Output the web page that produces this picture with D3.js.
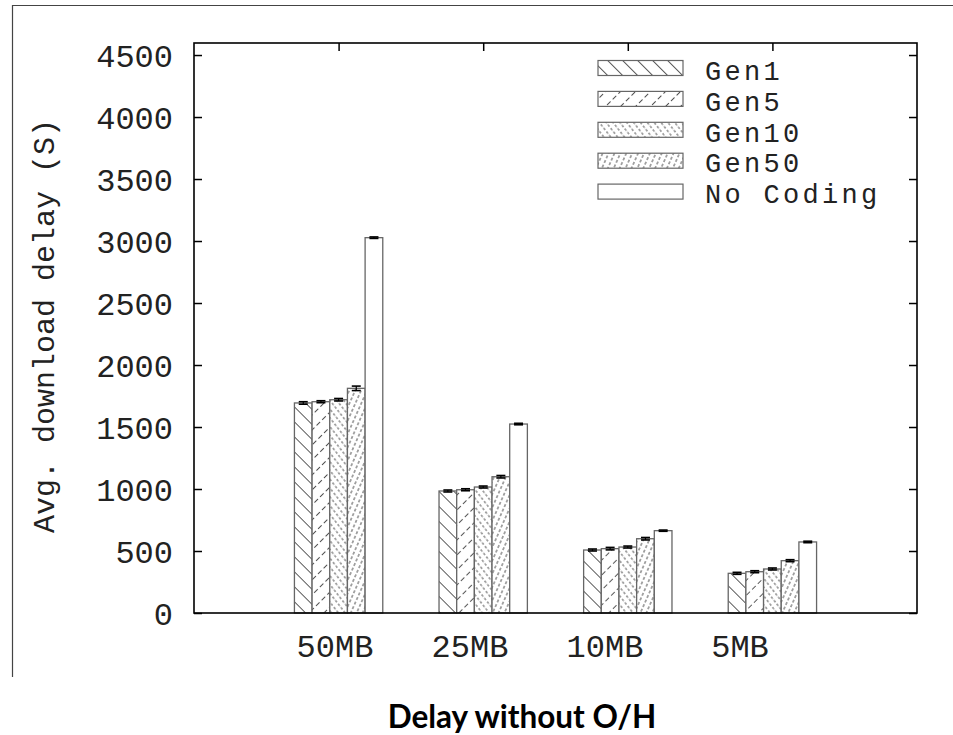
<!DOCTYPE html>
<html>
<head>
<meta charset="utf-8">
<script src="https://cdn.jsdelivr.net/npm/d3@7"></script>
<style>
  html, body { margin: 0; padding: 0; background: #fff; }
  svg { display: block; }
</style>
</head>
<body>
<svg id="chart" width="953" height="735"></svg>
<script>
// ---- data ----
const categories = ["50MB", "25MB", "10MB", "5MB"];
const seriesNames = ["Gen1", "Gen5", "Gen10", "Gen50", "No Coding"];
const gen1     = [1694, 984, 508, 320];
const gen5     = [1704, 994, 519, 333];
const gen10    = [1720, 1016, 532, 355];
const gen50    = [1812, 1099, 599, 422];
const noCoding = [3027, 1524, 664, 573];
const gen1Err     = [10, 8, 8, 8];
const gen5Err     = [8, 8, 10, 8];
const gen10Err    = [10, 8, 8, 8];
const gen50Err    = [18, 10, 10, 8];
const noCodingErr = [6, 6, 5, 6];
const yTicks = [0, 500, 1000, 1500, 2000, 2500, 3000, 3500, 4000, 4500];
const yLabel = "Avg. download delay (S)";
const xTitle = "Delay without O/H";

const series = [gen1, gen5, gen10, gen50, noCoding];
const errs = [gen1Err, gen5Err, gen10Err, gen50Err, noCodingErr];
const patterns = ["pGen1", "pGen5", "pGen10", "pGen50", null];

// ---- layout ----
const W = 953, H = 735;
const m = { left: 194, right: 917, top: 43, bottom: 613 };
const svg = d3.select("#chart");

const x = d3.scaleLinear().domain([0, categories.length + 1]).range([m.left, m.right]);
const xLab = d3.scaleLinear().domain([0, categories.length + 1]).range([m.left + 6, m.right - 42]);
const y = d3.scaleLinear().domain([0, 4597]).range([m.bottom, m.top]);
const barW = 0.1222; // in x-domain units

const mono = "'Liberation Mono', 'DejaVu Sans Mono', monospace";
const txtCol = "#222";

// ---- patterns ----
const defs = svg.append("defs");
function hatch(id, spacing, angle, dash, color, sw) {
  const period = dash ? dash.split(",").reduce((a, b) => a + (+b), 0) : 10;
  const h = period * 4;
  const p = defs.append("pattern")
    .attr("id", id)
    .attr("patternUnits", "userSpaceOnUse")
    .attr("width", spacing).attr("height", h)
    .attr("patternTransform", `rotate(${angle})`);
  p.append("rect").attr("width", spacing).attr("height", h).attr("fill", "#fff");
  const l = p.append("line")
    .attr("x1", spacing / 2).attr("x2", spacing / 2)
    .attr("y1", 0).attr("y2", h)
    .attr("stroke", color).attr("stroke-width", sw);
  if (dash) l.attr("stroke-dasharray", dash);
}
hatch("pGen1", 10.6, -45, null, "#555", 1);
hatch("pGen5", 10.6, 45, "5,3", "#555", 1);
hatch("pGen10", 5.4, -38, "2.5,2", "#555", 1);
hatch("pGen50", 5.4, 24, "3,2", "#555", 1);

// ---- outer frame ----
svg.append("line").attr("x1", 12).attr("x2", W).attr("y1", 5.5).attr("y2", 5.5)
  .attr("stroke", "#444").attr("stroke-width", 1.2);
svg.append("line").attr("x1", 12.5).attr("x2", 12.5).attr("y1", 5).attr("y2", 677)
  .attr("stroke", "#444").attr("stroke-width", 1.2);

// ---- axes ----
const tickLen = 8;
const yAxisL = d3.axisLeft(y).tickValues(yTicks).tickSize(-tickLen).tickPadding(21)
  .tickFormat(d3.format("d"));
const gL = svg.append("g").attr("transform", `translate(${m.left},0)`).call(yAxisL);
gL.select(".domain").remove();
gL.selectAll("line").attr("stroke", "#000").attr("stroke-width", 1.5);
gL.selectAll("text").attr("font-family", mono).attr("font-size", 32).attr("fill", txtCol)
  .attr("dy", "0.36em");
const yAxisR = d3.axisRight(y).tickValues(yTicks).tickSize(-tickLen).tickFormat("");
const gR = svg.append("g").attr("transform", `translate(${m.right},0)`).call(yAxisR);
gR.select(".domain").remove();
gR.selectAll("line").attr("stroke", "#000").attr("stroke-width", 1.5);
const catPos = categories.map((c, i) => i + 1);
const xAxisT = d3.axisTop(x).tickValues(catPos).tickSize(-tickLen).tickFormat("");
const gT = svg.append("g").attr("transform", `translate(0,${m.top})`).call(xAxisT);
gT.select(".domain").remove();
gT.selectAll("line").attr("stroke", "#000").attr("stroke-width", 1.5);
const xAxisB = d3.axisBottom(x).tickValues(catPos).tickSize(-tickLen).tickFormat("");
const gB = svg.append("g").attr("transform", `translate(0,${m.bottom})`).call(xAxisB);
gB.select(".domain").remove();
gB.selectAll("line").attr("stroke", "#000").attr("stroke-width", 1.5);

// ---- bars ----
const barsG = svg.append("g");
series.forEach((vals, s) => {
  vals.forEach((v, i) => {
    const x0 = x(i + 1 - 2.5 * barW + s * barW);
    const x1 = x(i + 1 - 2.5 * barW + (s + 1) * barW);
    barsG.append("rect")
      .attr("x", x0).attr("y", y(v))
      .attr("width", x1 - x0).attr("height", y(0) - y(v))
      .attr("fill", patterns[s] ? `url(#${patterns[s]})` : "#fff")
      .attr("stroke", "#666").attr("stroke-width", 1.3);
    const cx = (x0 + x1) / 2;
    const e = errs[s][i];
    barsG.append("line").attr("x1", cx).attr("x2", cx)
      .attr("y1", y(v - e)).attr("y2", y(v + e))
      .attr("stroke", "#000").attr("stroke-width", 1.2);
    [v - e, v + e].forEach(t => {
      barsG.append("line").attr("x1", cx - 4.5).attr("x2", cx + 4.5)
        .attr("y1", y(t)).attr("y2", y(t))
        .attr("stroke", "#000").attr("stroke-width", 1.6);
    });
  });
});

// ---- plot border ----
svg.append("rect")
  .attr("x", m.left).attr("y", m.top)
  .attr("width", m.right - m.left).attr("height", m.bottom - m.top)
  .attr("fill", "none").attr("stroke", "#000").attr("stroke-width", 1.6);

// ---- x category labels ----
svg.append("g").selectAll("text").data(categories).join("text")
  .attr("x", (d, i) => xLab(i + 1))
  .attr("y", 657)
  .attr("text-anchor", "middle")
  .attr("font-family", mono).attr("font-size", 32).attr("fill", txtCol)
  .text(d => d);

// ---- y label ----
svg.append("text")
  .attr("transform", `translate(54,${(m.top + m.bottom) / 2 - 2}) rotate(-90)`)
  .attr("text-anchor", "middle")
  .attr("font-family", mono).attr("font-size", 30).attr("fill", txtCol)
  .text(yLabel);

// ---- legend ----
const leg = svg.append("g");
const legX = 598, legY = 60.5, legStep = 30.9, swW = 85, swH = 15;
seriesNames.forEach((name, s) => {
  const yy = legY + s * legStep;
  leg.append("rect").attr("x", legX).attr("y", yy).attr("width", swW).attr("height", swH)
    .attr("fill", patterns[s] ? `url(#${patterns[s]})` : "#fff")
    .attr("stroke", "#666").attr("stroke-width", 1.2);
  leg.append("text").attr("x", 705).attr("y", yy + swH / 2 + 2)
    .attr("dy", "0.36em")
    .attr("font-family", mono).attr("font-size", 27).attr("letter-spacing", 3.3)
    .attr("fill", txtCol)
    .text(name);
});

// ---- x title ----
svg.append("text")
  .attr("x", 522).attr("y", 728)
  .attr("text-anchor", "middle")
  .attr("font-family", "Lato, 'Open Sans', sans-serif")
  .attr("font-weight", "bold").attr("font-size", 31.5).attr("fill", "#000")
  .text(xTitle);
</script>
</body>
</html>
